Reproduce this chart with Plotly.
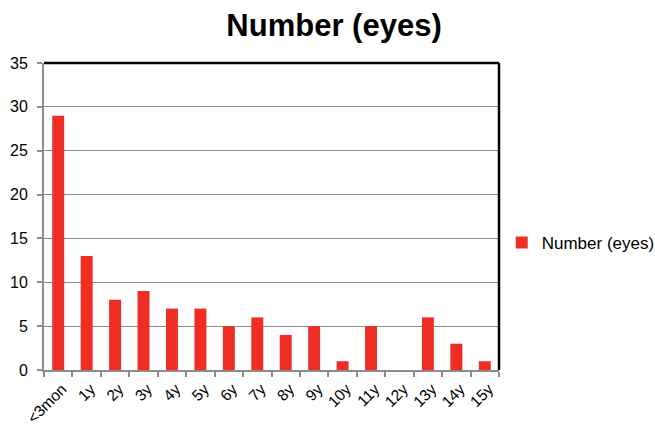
import plotly.graph_objects as go

# Age groups and eye counts
categories = ["<3mon", "1y", "2y", "3y", "4y", "5y", "6y", "7y",
              "8y", "9y", "10y", "11y", "12y", "13y", "14y", "15y"]
eyes = [29, 13, 8, 9, 7, 7, 5, 6, 4, 5, 1, 5, 0, 6, 3, 1]

series_name = "Number (eyes)"
bar_color = "#EE2E24"
grid_color = "#8C8C8C"
font_family = "Liberation Sans, Arial, sans-serif"

fig = go.Figure()
fig.add_trace(go.Bar(
    x=categories,
    y=eyes,
    name=series_name,
    marker=dict(color=bar_color, line=dict(width=0)),
    width=0.42,
))

fig.update_layout(
    width=655,
    height=426,
    margin=dict(l=44, r=156, t=63, b=56, autoexpand=False),
    paper_bgcolor="white",
    plot_bgcolor="white",
    font=dict(family=font_family, color="black"),
    title=dict(
        text="<b>Number (eyes)</b>",
        x=0.51, xanchor="center",
        y=0.94, yanchor="middle",
        font=dict(size=31, family=font_family, color="black"),
    ),
    showlegend=True,
    legend=dict(
        x=1.006, xanchor="left",
        y=0.414, yanchor="middle",
        font=dict(size=17, family=font_family),
        bgcolor="rgba(0,0,0,0)",
    ),
    bargap=0.58,
)

fig.update_xaxes(
    type="category",
    tickangle=-45,
    tickfont=dict(size=15.5),
    ticklabelshift=4,
    ticklabelstandoff=2,
    automargin=False,
    showline=True, linecolor=grid_color, linewidth=2,
    ticks="outside", tickson="boundaries", ticklen=5,
    tickcolor=grid_color, tickwidth=1.5,
    showgrid=False,
)

fig.update_yaxes(
    range=[0, 35],
    dtick=5,
    tickfont=dict(size=16),
    ticklabelstandoff=6,
    automargin=False,
    showline=True, linecolor=grid_color, linewidth=2,
    ticks="outside", ticklen=5, tickcolor=grid_color, tickwidth=1.5,
    showgrid=True, gridcolor=grid_color, gridwidth=1,
    zeroline=False,
)

# Heavy black frame along the top and right edges of the plot area
fig.add_shape(type="line", xref="paper", yref="paper",
              x0=0, x1=1, y0=1, y1=1, line=dict(color="black", width=2.5))
fig.add_shape(type="line", xref="paper", yref="paper",
              x0=1, x1=1, y0=0, y1=1, line=dict(color="black", width=2.5))

fig.write_html("out.html")
